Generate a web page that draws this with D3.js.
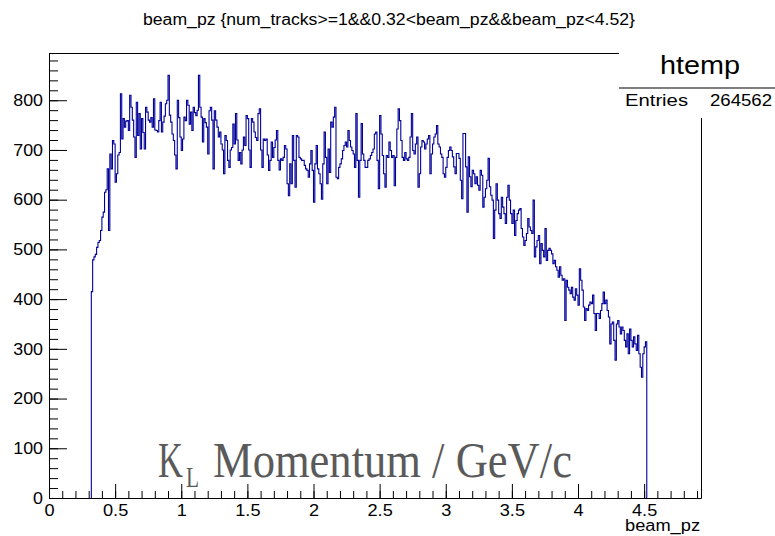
<!DOCTYPE html>
<html><head><meta charset="utf-8">
<script src="https://cdn.jsdelivr.net/npm/d3@7"></script>
<style>body{margin:0;background:#fff}svg text{font-family:"Liberation Sans",Arial,Helvetica,sans-serif}svg text.serif{font-family:"Liberation Serif","Times New Roman",serif}</style>
</head><body><svg id="c" width="775" height="536"></svg>
<script>
// ---- data ----
const titleText = "beam_pz {num_tracks>=1&&0.32<beam_pz&&beam_pz<4.52}";
const histName = "htemp";
const entries = "264562";
const xAxisTitle = "beam_pz";
const binStart = 0.32;
const binWidth = 0.01;
const counts = [
415,479,485,490,504,514,518,538,565,575,
615,620,662,538,692,662,719,712,635,652,
690,695,813,722,763,746,758,759,739,810,
786,760,726,685,796,729,773,702,763,735,
702,786,776,760,756,765,746,803,740,739,
736,759,796,736,756,768,793,800,850,770,
756,732,719,690,662,800,765,726,699,722,
766,759,800,790,752,776,739,786,775,769,
780,850,786,766,716,763,755,746,692,779,
786,760,662,779,760,746,726,736,712,700,
652,729,719,679,665,700,705,752,712,773,
720,679,695,672,700,726,709,769,763,700,
665,763,756,736,725,719,773,783,700,665,
722,719,722,690,659,679,716,685,705,720,
739,679,660,682,679,685,709,702,632,608,
672,632,729,679,625,729,726,685,682,679,
679,669,662,659,645,672,699,659,595,672,
709,662,652,632,601,672,736,685,632,702,
655,756,746,766,786,645,642,665,672,682,
699,709,716,706,739,719,706,699,692,665,
773,679,605,679,753,692,679,665,665,679,
682,689,695,702,732,736,679,622,769,732,
689,652,625,689,685,716,699,685,689,628,
685,742,783,759,719,685,679,695,682,679,
685,726,773,699,692,712,726,625,652,706,
719,716,702,712,722,729,652,692,712,726,
732,749,712,706,692,685,652,645,665,685,
699,706,699,686,666,652,693,693,683,639,
602,733,733,666,575,686,646,626,659,652,
632,646,629,619,659,649,585,605,622,639,
683,626,609,599,522,579,632,599,572,562,
605,585,572,552,605,629,599,572,552,579,
528,558,572,579,582,542,525,508,518,532,
562,545,538,532,599,485,505,518,528,471,
512,498,485,542,478,498,502,498,491,471,
478,465,458,444,465,448,438,441,357,438,
424,418,411,424,404,398,421,408,388,461,
438,418,384,357,381,377,388,394,391,408,
371,337,371,371,361,377,391,414,391,398,
377,364,310,350,354,317,277,350,357,344,
330,344,337,317,304,330,290,340,317,304,
324,310,297,327,290,263,243,290,304,314
];
const xMajorTicks = [0,0.5,1,1.5,2,2.5,3,3.5,4,4.5];
const xTickLabels = ["0","0.5","1","1.5","2","2.5","3","3.5","4","4.5"];
const yMajorTicks = [0,100,200,300,400,500,600,700,800];
const yTickLabels = ["0","100","200","300","400","500","600","700","800"];
const xDomain = [0, 4.93];
const yDomain = [0, 895];

// ---- drawing ----
const svg = d3.select('#c');
const x = d3.scaleLinear().domain(xDomain).range([49, 701]);
const y = d3.scaleLinear().domain(yDomain).range([498, 53]);

function stretch(sel, f){
  sel.each(function(){
    const w = this.getComputedTextLength();
    d3.select(this).attr('textLength', w*f).attr('lengthAdjust','spacingAndGlyphs');
  });
}
function fitWidth(sel, w){
  sel.attr('textLength', w).attr('lengthAdjust','spacingAndGlyphs');
}
// horizontally scaled serif text via transform (left-anchored at px,py)
function scaledText(parent, str, px, py, size, width){
  const t = parent.append('text').attr('class','serif').attr('x',0).attr('y',0).attr('font-size',size).text(str);
  const nat = t.node().getComputedTextLength();
  t.attr('transform', `translate(${px},${py}) scale(${width/nat},1)`);
  return t;
}

// histogram
const pts = [[binStart, 0]];
counts.forEach((c, i) => {
  const x0 = binStart + i*binWidth;
  pts.push([x0, c], [x0 + binWidth, c]);
});
pts.push([binStart + counts.length*binWidth, 0]);
svg.append('path')
  .attr('d', d3.line().x(d => x(d[0])).y(d => y(d[1]))(pts))
  .attr('fill','none').attr('stroke','#000099').attr('stroke-width',1.1);

// minor ticks
const xMinor = d3.range(0, 4.931, 0.1);
const yMinor = d3.range(0, 895, 20);
const gxm = svg.append('g').attr('transform','translate(0,498)')
  .call(d3.axisBottom(x).tickValues(xMinor).tickSizeInner(-7).tickSizeOuter(0).tickFormat(''));
const gym = svg.append('g').attr('transform','translate(49,0)')
  .call(d3.axisLeft(y).tickValues(yMinor).tickSizeInner(-9).tickSizeOuter(0).tickFormat(''));

// major axes
const gx = svg.append('g').attr('transform','translate(0,498)')
  .call(d3.axisBottom(x).tickValues(xMajorTicks).tickSizeInner(-14).tickSizeOuter(0).tickPadding(6)
    .tickFormat((d,i) => xTickLabels[i]));
const gy = svg.append('g').attr('transform','translate(49,0)')
  .call(d3.axisLeft(y).tickValues(yMajorTicks).tickSizeInner(-18).tickSizeOuter(0).tickPadding(6)
    .tickFormat((d,i) => yTickLabels[i]));

[gxm, gym, gx, gy].forEach(g => {
  g.selectAll('path.domain').attr('stroke','#000').attr('stroke-width',1);
  g.selectAll('line').attr('stroke','#000').attr('stroke-width',1);
});
gx.selectAll('text').attr('font-size',16.5).attr('fill','#000').attr('font-family','"Liberation Sans",Arial,sans-serif');
gy.selectAll('text').attr('font-size',16.5).attr('fill','#000').attr('font-family','"Liberation Sans",Arial,sans-serif');
stretch(gx.selectAll('text'), 1.1);
stretch(gy.selectAll('text'), 1.08);

// frame top and right
svg.append('line').attr('x1',49).attr('x2',701).attr('y1',53.5).attr('y2',53.5).attr('stroke','#000').attr('stroke-width',1.2);
svg.append('line').attr('x1',701.5).attr('x2',701.5).attr('y1',53).attr('y2',498).attr('stroke','#000').attr('stroke-width',1);

// stats box
svg.append('rect').attr('x',619).attr('y',40).attr('width',160).attr('height',78).attr('fill','#fff');
svg.append('line').attr('x1',619).attr('x2',775).attr('y1',88).attr('y2',88).attr('stroke','#000').attr('stroke-width',1.2);
svg.append('text').attr('x',700).attr('y',73.5).attr('text-anchor','middle').attr('font-size',25).text(histName).call(fitWidth, 80);
svg.append('text').attr('x',625).attr('y',106).attr('font-size',16).text('Entries').call(fitWidth, 63);
svg.append('text').attr('x',772).attr('y',106).attr('text-anchor','end').attr('font-size',16).text(entries).call(fitWidth, 62);

// title
svg.append('text').attr('x',389).attr('y',25).attr('text-anchor','middle').attr('font-size',16).text(titleText).call(fitWidth, 492);

// x axis title
svg.append('text').attr('x',700).attr('y',531).attr('text-anchor','end').attr('font-size',16).text(xAxisTitle).call(fitWidth, 75);

// overlay label
const lab = svg.append('g').attr('fill','#5a5a5a');
scaledText(lab, 'K', 158, 477, 50, 25);
scaledText(lab, 'L', 186, 487, 30, 13);
scaledText(lab, 'Momentum / GeV/c', 213, 477, 50, 359);
</script></body></html>
